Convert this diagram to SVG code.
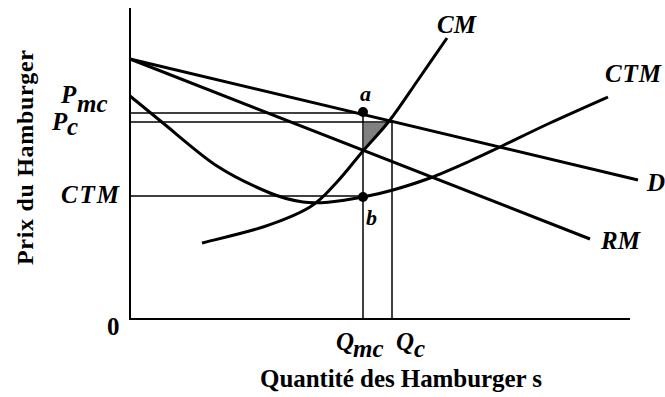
<svg xmlns="http://www.w3.org/2000/svg" width="665" height="397" viewBox="0 0 665 397">
<style>
.axis{stroke:#000;stroke-width:2;fill:none}
.guide{stroke:#000;stroke-width:1.5;fill:none}
.curve{stroke:#000;stroke-width:3;fill:none;stroke-linecap:butt;stroke-linejoin:round}
.lbl{font-family:"Liberation Serif",serif;font-style:italic;font-weight:bold;font-size:25px;fill:#000}
.sm{font-size:22px}
.ttl{font-family:"Liberation Serif",serif;font-weight:bold;font-size:22px;fill:#000}
.xt{font-size:25px}
.yt{font-size:24px}
</style>
<rect width="665" height="397" fill="#fff"/>
<g id="axes">
<polyline class="axis" points="130,8 130,319 630,319"/>
</g>
<g id="shade">
<polygon points="364,123 387,123 364,150" fill="#808080"/>
</g>
<g id="guides">
<line class="guide" x1="130" y1="113" x2="363" y2="113"/>
<line class="guide" x1="130" y1="122" x2="392" y2="122"/>
<line class="guide" x1="130" y1="196" x2="363" y2="196"/>
<line class="guide" x1="363" y1="113" x2="363" y2="319"/>
<line class="guide" x1="392" y1="122" x2="392" y2="319"/>
</g>
<g id="connectors">
<line id="D" class="curve" x1="130" y1="59" x2="638" y2="180"/>
<line id="RM" class="curve" x1="130" y1="59" x2="590" y2="239"/>
<path id="CM" class="curve" d="M202,243 C212.2,240.3 245,233 263,227 C281,221 297.7,214.5 310,207 C322.3,199.5 328.2,191.3 337,182 C345.8,172.7 354.2,161.3 363,151 C371.8,140.7 380.8,131.8 390,120 C399.2,108.2 408.5,93.7 418,80 C427.5,66.3 442.2,45 447,38"/>
<path id="CTM" class="curve" d="M130,96 C135.5,100.5 148.5,111.3 163,123 C177.5,134.7 199.2,154.3 217,166 C234.8,177.7 255.7,187 270,193 C284.3,199 293,200.5 303,202 C313,203.5 320,202.8 330,202 C340,201.2 352.5,199 363,197 C373.5,195 381.8,193.2 393,190 C404.2,186.8 417.2,182.8 430,178 C442.8,173.2 458.3,166.2 470,161 C481.7,155.8 486.7,153.3 500,147 C513.3,140.7 532,131.3 550,123 C568,114.7 598.3,101.3 608,97"/>
</g>
<g id="point-a">
<circle cx="363" cy="112" r="5" fill="#000"/>
<text class="lbl sm" x="360" y="101">a</text>
</g>
<g id="point-b">
<circle cx="363" cy="197" r="5" fill="#000"/>
<text class="lbl sm" x="366" y="225">b</text>
</g>
<g id="labels">
<text class="lbl" x="437" y="33">CM</text>
<text class="lbl" x="605" y="82" textLength="56">CTM</text>
<text class="lbl" x="647" y="191">D</text>
<text class="lbl" x="601" y="249">RM</text>
<text class="lbl" x="61" y="203" textLength="58">CTM</text>
<text class="lbl" x="61" y="103">P</text>
<text class="lbl" x="77" y="112">mc</text>
<text class="lbl" x="52" y="130">P</text>
<text class="lbl" x="67" y="135">c</text>
<text class="lbl" x="336" y="350">Q</text>
<text class="lbl" x="353" y="357">mc</text>
<text class="lbl" x="396" y="350">Q</text>
<text class="lbl" x="414" y="357">c</text>
<text class="ttl xt" x="107" y="335">0</text>
</g>
<g id="titles">
<text class="ttl xt" x="260" y="387" textLength="282">Quantité des Hamburger s</text>
<text class="ttl yt" transform="translate(33,265) rotate(-90)" x="0" y="0" textLength="215">Prix du Hamburger</text>
</g>
</svg>
